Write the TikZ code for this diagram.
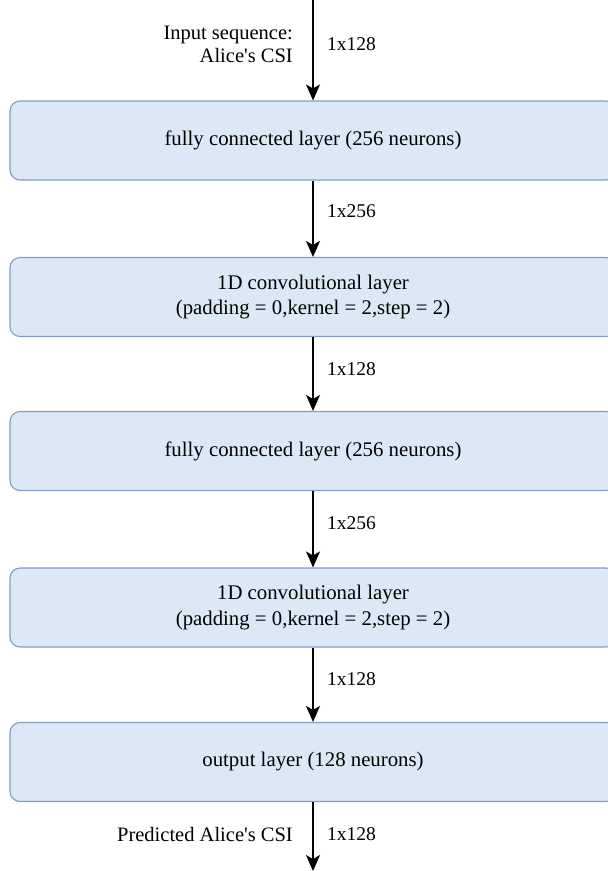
\documentclass[tikz,border=0pt]{standalone}
\usepackage{fontspec}
\setmainfont{Liberation Serif}
\usetikzlibrary{arrows.meta}
\definecolor{layerfill}{HTML}{DCE8F6}
\definecolor{layerline}{HTML}{7F9DCB}
\newcommand{\labelsize}{\fontsize{19.5}{24}\selectfont}
\tikzset{
  layer/.style={draw=layerline, line width=1.1pt, fill=layerfill, rounded corners=10pt,
    minimum width=606pt, minimum height=79pt, inner sep=0pt, align=center,
    font=\fontsize{20.8}{25.5}\selectfont},
  flow/.style={line width=1.4pt, -{Stealth[length=16pt,width=14pt,inset=4pt]}},
  dimlabel/.style={anchor=west, inner sep=0pt, font=\labelsize},
  sidelabel/.style={anchor=east, inner sep=0pt, align=right, font=\fontsize{20.5}{23}\selectfont}
}
\begin{document}
\begin{tikzpicture}[x=1pt, y=-1pt]
  \useasboundingbox (0,0) rectangle (608,871);
  \clip (0,0) rectangle (608,871);

  \node[layer] (fc1)  at (313,140.5) {fully connected layer (256 neurons)};
  \node[layer] (conv1) at (313,297) {1D convolutional layer\\(padding = 0,kernel = 2,step = 2)};
  \node[layer] (fc2)  at (313,451) {fully connected layer (256 neurons)};
  \node[layer] (conv2) at (313,607.5) {1D convolutional layer\\(padding = 0,kernel = 2,step = 2)};
  \node[layer] (out)  at (313,762) {output layer (128 neurons)};

  \coordinate (src) at (313,0);
  \coordinate (dst) at (313,871);

  \draw[flow] (src) -- (fc1.north);
  \draw[flow] (fc1.south) -- (conv1.north);
  \draw[flow] (conv1.south) -- (fc2.north);
  \draw[flow] (fc2.south) -- (conv2.north);
  \draw[flow] (conv2.south) -- (out.north);
  \draw[flow] (out.south) -- (dst);

  \node[sidelabel] (inlbl) at (293,44) {Input sequence:\\Alice\textquotesingle s CSI};
  \node[dimlabel] (d0) at (327,44) {1x128};
  \node[dimlabel] (d1) at (327,211) {1x256};
  \node[dimlabel] (d2) at (327,369) {1x128};
  \node[dimlabel] (d3) at (327,523) {1x256};
  \node[dimlabel] (d4) at (327,679) {1x128};
  \node[sidelabel] (outlbl) at (293,834) {Predicted Alice\textquotesingle s CSI};
  \node[dimlabel] (d5) at (327,834) {1x128};
\end{tikzpicture}
\end{document}
